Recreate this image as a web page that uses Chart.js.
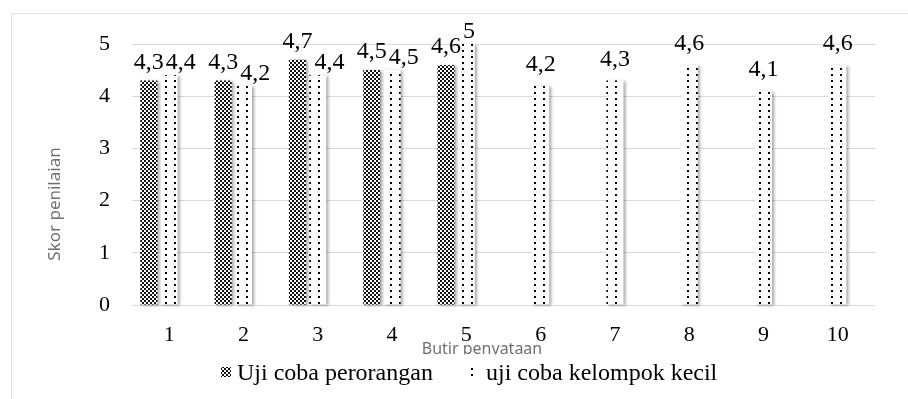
<!DOCTYPE html>
<html>
<head>
<meta charset="utf-8">
<script src="https://cdn.jsdelivr.net/npm/chart.js@4.4.1/dist/chart.umd.min.js"></script>
<style>
html,body{margin:0;padding:0;background:#fff;}
#wrap{width:908px;height:399px;position:relative;}
canvas{display:block;}
</style>
</head>
<body>
<div id="wrap"><canvas id="c" width="908" height="399"></canvas></div>
<script>
// ---- data ----
const categories = ['1','2','3','4','5','6','7','8','9','10'];
const seriesNames = ['Uji coba perorangan', 'uji coba kelompok kecil'];
const perorangan = [4.3, 4.3, 4.7, 4.5, 4.6, null, null, null, null, null];
const kelompokKecil = [4.4, 4.2, 4.4, 4.5, 5, 4.2, 4.3, 4.6, 4.1, 4.6];
const yTicks = [0, 1, 2, 3, 4, 5];
const xTitle = 'Butir penyataan';
const yTitle = 'Skor penilaian';

// ---- styles ----
const SERIF = '"Liberation Serif", "Times New Roman", serif';
const SANS = '"Noto Sans", "Open Sans", sans-serif';
const GRID = '#d9d9d9';

const canvas = document.getElementById('c');
const ctx = canvas.getContext('2d');

function makePattern(kind) {
  const p = document.createElement('canvas');
  const g = p.getContext('2d');
  if (kind === 'checker') {
    p.width = 4; p.height = 4;
    g.fillStyle = '#ffffff'; g.fillRect(0, 0, 4, 4);
    g.fillStyle = '#111111';
    g.fillRect(0, 0, 2, 2); g.fillRect(2, 2, 2, 2);
  } else {
    p.width = 9; p.height = 12;
    g.fillStyle = '#ffffff'; g.fillRect(0, 0, 9, 12);
    g.fillStyle = '#000000';
    g.fillRect(3, 2, 2, 2); g.fillRect(3, 8, 2, 2);
  }
  return ctx.createPattern(p, 'repeat');
}
const checker = makePattern('checker');
const dots = makePattern('dots');

const fmt = v => String(v).replace('.', ',');

const decoPlugin = {
  id: 'deco',
  beforeDraw(chart) {
    const c = chart.ctx;
    c.save();
    c.strokeStyle = '#dde3ea';
    c.lineWidth = 1;
    c.beginPath();
    c.moveTo(11.5, chart.height + 2);
    c.lineTo(11.5, 13.5);
    c.lineTo(chart.width + 2, 13.5);
    c.stroke();
    c.restore();
  },
  beforeDatasetsDraw(chart) {
    const c = chart.ctx;
    c.save();
    c.shadowColor = 'rgba(0,0,0,0.35)';
    c.shadowBlur = 3;
    c.shadowOffsetX = 2;
    c.shadowOffsetY = 1;
  },
  afterDatasetsDraw(chart) {
    const c = chart.ctx;
    c.restore();
    // data labels
    c.save();
    c.font = '24px ' + SERIF;
    c.fillStyle = '#000';
    c.textAlign = 'center';
    c.textBaseline = 'alphabetic';
    const m0 = chart.getDatasetMeta(0), m1 = chart.getDatasetMeta(1);
    const d0 = chart.data.datasets[0].data, d1 = chart.data.datasets[1].data;
    for (let i = 0; i < categories.length; i++) {
      let r0 = -Infinity;
      const paired = d0[i] != null;
      if (paired) {
        const b = m0.data[i];
        const t = fmt(d0[i]);
        const w = c.measureText(t).width;
        r0 = b.x + w / 2;
        c.fillText(t, b.x, b.y - 12);
      }
      if (d1[i] != null) {
        const b = m1.data[i];
        const t = fmt(d1[i]);
        const w = c.measureText(t).width;
        let x = b.x;
        const left = x - w / 2;
        if (left < r0 + 2) x += (r0 + 2 - left);
        c.fillText(t, x, b.y - (paired ? 6 : 15));
      }
    }
    c.restore();
  },
  afterDraw(chart) {
    const c = chart.ctx;
    c.save();
    // y title
    c.font = '17px ' + SANS;
    c.fillStyle = '#707070';
    c.textAlign = 'center';
    c.textBaseline = 'middle';
    c.translate(55, 204);
    c.rotate(-Math.PI / 2);
    c.fillText(yTitle, 0, 0);
    c.restore();
    // x title
    c.save();
    c.font = '16px ' + SANS;
    c.fillStyle = '#707070';
    c.textAlign = 'center';
    c.textBaseline = 'alphabetic';
    c.fillText(xTitle, 482, 354);
    c.restore();
    // legend (white box over title bottom)
    c.save();
    c.fillStyle = '#fff';
    c.fillRect(214, 354.5, 560, 40);
    c.font = '24px ' + SERIF;
    c.textBaseline = 'alphabetic';
    c.textAlign = 'left';
    c.fillStyle = checker;
    c.fillRect(221, 367, 10, 10);
    c.fillStyle = '#000';
    c.fillText(seriesNames[0], 237, 380);
    c.fillStyle = dots;
    c.fillRect(469, 367, 10, 10);
    c.fillStyle = '#000';
    c.fillText(seriesNames[1], 486, 380);
    c.restore();
  }
};

new Chart(ctx, {
  type: 'bar',
  data: {
    labels: categories,
    datasets: [
      { label: seriesNames[0], data: perorangan, backgroundColor: checker, borderWidth: 0, clip: false },
      { label: seriesNames[1], data: kelompokKecil, backgroundColor: dots, borderWidth: 0, clip: false },
      { label: '', data: categories.map(() => null), backgroundColor: 'rgba(0,0,0,0)', borderWidth: 0 }
    ]
  },
  options: {
    responsive: false,
    devicePixelRatio: 1,
    animation: false,
    events: [],
    categoryPercentage: 0.82,
    barPercentage: 0.84,
    layout: { padding: { top: 44, right: 33, bottom: 0, left: 0 } },
    plugins: {
      legend: { display: false },
      tooltip: { enabled: false },
      title: { display: false }
    },
    scales: {
      x: {
        grid: { display: false, drawTicks: false },
        border: { display: false },
        ticks: { font: { family: SERIF, size: 22 }, color: '#000', padding: 17, maxRotation: 0 },
        afterFit(s) { s.height = 94; }
      },
      y: {
        min: 0, max: 5,
        afterBuildTicks(s) { s.ticks = yTicks.map(v => ({ value: v })); },
        grid: { color: GRID, lineWidth: 1, drawTicks: false },
        border: { display: false },
        ticks: { font: { family: SERIF, size: 22 }, color: '#000', padding: 22 },
        afterFit(s) { s.width = 132; }
      }
    }
  },
  plugins: [decoPlugin]
});
</script>
</body>
</html>
